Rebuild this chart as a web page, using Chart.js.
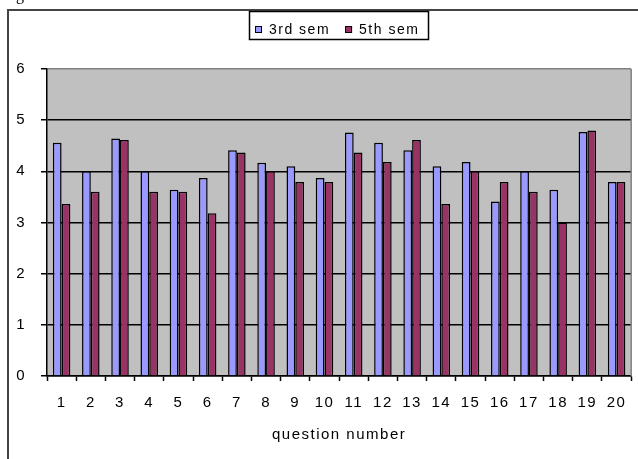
<!DOCTYPE html>
<html><head><meta charset="utf-8">
<script src="https://cdn.jsdelivr.net/npm/chart.js@4"></script>
<style>html,body{margin:0;padding:0;background:#fff;overflow:hidden}canvas{display:block}</style>
</head><body>
<canvas id="c" width="638" height="459"></canvas>
<script>
const categories = ['1','2','3','4','5','6','7','8','9','10','11','12','13','14','15','16','17','18','19','20'];
const sem3 = [4.56, 4.0, 4.64, 4.0, 3.64, 3.87, 4.41, 4.17, 4.1, 3.87, 4.76, 4.56, 4.41, 4.1, 4.18, 3.41, 4.0, 3.64, 4.77, 3.79];
const sem5 = [3.36, 3.6, 4.61, 3.6, 3.6, 3.18, 4.37, 4.0, 3.79, 3.79, 4.37, 4.18, 4.61, 3.36, 4.0, 3.79, 3.6, 3.0, 4.8, 3.79];
const seriesLabels = ['3rd sem', '5th sem'];
const axisTitle = 'question number';
const yMin = 0, yMax = 6, yStep = 1;

const FONT = 'Liberation Sans';
const decor = {
  id: 'decor',
  beforeDraw(chart) {
    const {ctx, chartArea: a} = chart;
    ctx.save();
    ctx.fillStyle = '#fff';
    ctx.fillRect(0, 0, chart.width, chart.height);
    ctx.fillStyle = '#000';
    ctx.font = '16px "Liberation Serif"';
    ctx.fillText('g', 16, 0);
    ctx.strokeStyle = '#444';
    ctx.lineWidth = 2;
    ctx.strokeRect(8, 10, 800, 600);
    ctx.fillStyle = '#c0c0c0';
    ctx.fillRect(a.left, a.top, a.right - a.left, a.bottom - a.top);
    ctx.restore();
    ctx.letterSpacing = '1.5px';
  },
  beforeDatasetsDraw(chart) {
    const {ctx, chartArea: a} = chart;
    ctx.letterSpacing = '0px';
    ctx.save();
    ctx.strokeStyle = '#808080';
    ctx.lineWidth = 1.5;
    ctx.beginPath();
    ctx.moveTo(a.right, a.top);
    ctx.lineTo(a.right, a.bottom);
    ctx.stroke();
    ctx.restore();
  },
  afterDraw(chart) {
    const ctx = chart.ctx;
    ctx.save();
    ctx.fillStyle = '#fff';
    ctx.fillRect(249, 11, 180, 29);
    ctx.strokeStyle = '#000';
    ctx.lineWidth = 1.5;
    ctx.strokeRect(249.5, 11.5, 179, 28);
    ctx.font = '14px "' + FONT + '"';
    ctx.letterSpacing = '1.5px';
    ctx.textBaseline = 'middle';
    let x = 255;
    chart.data.datasets.forEach((ds, i) => {
      ctx.fillStyle = ds.backgroundColor;
      ctx.fillRect(x, 26, 7, 7);
      ctx.lineWidth = 1;
      ctx.strokeRect(x + 0.5, 26.5, 6, 6);
      ctx.fillStyle = '#000';
      ctx.fillText(ds.label, x + 14, 30);
      x += 14 + ctx.measureText(ds.label).width + 15;
    });
    ctx.restore();
  }
};

new Chart(document.getElementById('c').getContext('2d'), {
  type: 'bar',
  data: {
    labels: categories,
    datasets: [
      {label: seriesLabels[0], data: sem3, backgroundColor: '#9999ff', borderColor: '#000', borderWidth: 1.5, borderSkipped: 'start'},
      {label: seriesLabels[1], data: sem5, backgroundColor: '#993366', borderColor: '#000', borderWidth: 1.5, borderSkipped: 'start'}
    ]
  },
  options: {
    responsive: false,
    animation: false,
    layout: {padding: {left: 0, right: 3, top: 69, bottom: 0}},
    datasets: {bar: {categoryPercentage: 0.6, barPercentage: 1}},
    plugins: {legend: {display: false}, tooltip: {enabled: false}},
    scales: {
      x: {
        grid: {display: true, drawOnChartArea: false, drawTicks: true, tickLength: 5, tickColor: '#000', tickWidth: 1.5, offset: true},
        border: {display: true, color: '#000', width: 1.5},
        ticks: {color: '#000', font: {family: FONT, size: 15}, padding: 13, maxRotation: 0, autoSkip: false},
        title: {display: true, text: axisTitle, color: '#000', font: {family: FONT, size: 15}, padding: {top: 0, bottom: 15}},
        afterFit(s) { s.height = 83; }
      },
      y: {
        min: yMin, max: yMax,
        ticks: {stepSize: yStep, color: '#000', font: {family: FONT, size: 15}, padding: 15},
        grid: {color: c => (c.tick && c.tick.value === yMax) ? '#808080' : '#000', lineWidth: 1.5, tickLength: 6, tickColor: '#000', tickWidth: 1.5},
        border: {display: true, color: '#000', width: 1.5},
        afterFit(s) { s.width = 47; }
      }
    }
  },
  plugins: [decor]
});
</script>
</body></html>
